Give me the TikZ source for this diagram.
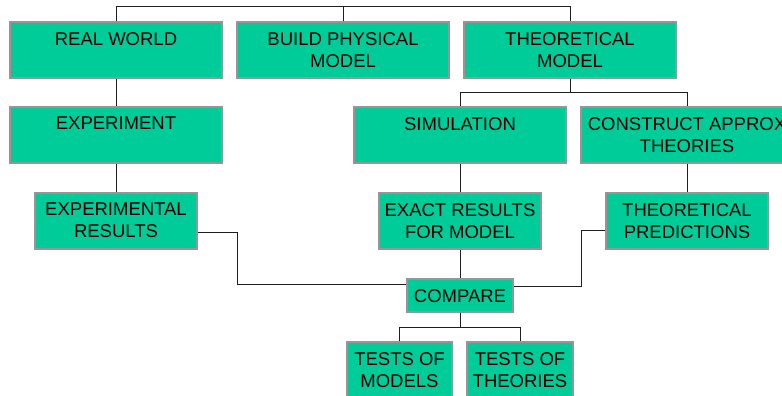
\documentclass[tikz,border=0pt]{standalone}
\usepackage{fontspec}
\setmainfont{Liberation Sans}
\usetikzlibrary{positioning}

\definecolor{boxgreen}{RGB}{0,204,153}
\definecolor{boxrim}{RGB}{150,150,150}
\definecolor{wire}{RGB}{30,30,30}

\tikzset{
    box/.style = {shape = rectangle, draw = boxrim, line width = 1.2pt, fill = boxgreen, inner sep = 0pt},
    txt/.style = {inner sep = 0pt, align = center, font = \fontsize{18.5}{22}\selectfont},
    link/.style = {draw = wire, line width = 1pt}
}

\begin{document}
\begin{tikzpicture}[x = 1pt, y = 1pt]
    \clip (0,0) rectangle (782,-396);

    \node [box, minimum width = 212, minimum height = 56] (real) at (116,-50) {};
    \node [txt, below = 10.5pt of real.north] (realT) {REAL WORLD};
    \node [box, minimum width = 212, minimum height = 56] (build) at (343,-50) {};
    \node [txt, below = 10.5pt of build.north] (buildT) {BUILD PHYSICAL\\MODEL};
    \node [box, minimum width = 212, minimum height = 56] (theo) at (570,-50) {};
    \node [txt, below = 10.5pt of theo.north] (theoT) {THEORETICAL\\MODEL};

    \node [box, minimum width = 212, minimum height = 56] (exper) at (116,-135) {};
    \node [txt, below = 10.5pt of exper.north] (experT) {EXPERIMENT};
    \node [box, minimum width = 212, minimum height = 56] (sim) at (460,-135) {};
    \node [txt, below = 10.5pt of sim.north] (simT) {SIMULATION};
    \node [box, minimum width = 212, minimum height = 56] (constr) at (687,-135) {};
    \node [txt, below = 10.5pt of constr.north] (constrT) {CONSTRUCT APPROX\\THEORIES};

    \node [box, minimum width = 162, minimum height = 56] (expres) at (116,-221) {};
    \node [txt, below = 10.5pt of expres.north] (expresT) {EXPERIMENTAL\\RESULTS};
    \node [box, minimum width = 162, minimum height = 56] (exact) at (460,-221) {};
    \node [txt, below = 10.5pt of exact.north] (exactT) {EXACT RESULTS\\FOR MODEL};
    \node [box, minimum width = 162, minimum height = 56] (pred) at (687,-221) {};
    \node [txt, below = 10.5pt of pred.north] (predT) {THEORETICAL\\PREDICTIONS};

    \node [box, minimum width = 106, minimum height = 33] (compare) at (460,-295.5) {};
    \node [txt, below = 10.5pt of compare.north] (compareT) {COMPARE};

    \node [box, minimum width = 105, minimum height = 58] (tmod) at (399.5,-371) {};
    \node [txt, below = 10.5pt of tmod.north] (tmodT) {TESTS OF\\MODELS};
    \node [box, minimum width = 106, minimum height = 58] (tthe) at (520,-371) {};
    \node [txt, below = 10.5pt of tthe.north] (ttheT) {TESTS OF\\THEORIES};

    % top bar
    \draw [link] (real.north) -- ++(0,15) -| (theo.north);
    \draw [link] (build.north) -- ++(0,15);

    \draw [link] (real.south) -- (exper.north);
    \draw [link] (exper.south) -- (expres.north);

    \draw [link] (theo.south) -- ++(0,-14) coordinate (tj);
    \draw [link] (sim.north) |- (tj) -| (constr.north);
    \draw [link] (sim.south) -- (exact.north);
    \draw [link] (constr.south) -- (pred.north);

    % into compare
    \draw [link] (exact.south) -- (compare.north);
    \draw [link] ([yshift = -11]expres.east) -- ++(40,0) |- ([yshift = 11]compare.west);
    \draw [link] ([yshift = -9]pred.west) -- ++(-24,0) |- ([yshift = 9]compare.east);

    \draw [link] (compare.south) -- ++(0,-15) coordinate (cj);
    \draw [link] (tmod.north) |- (cj) -| (tthe.north);
\end{tikzpicture}
\end{document}
